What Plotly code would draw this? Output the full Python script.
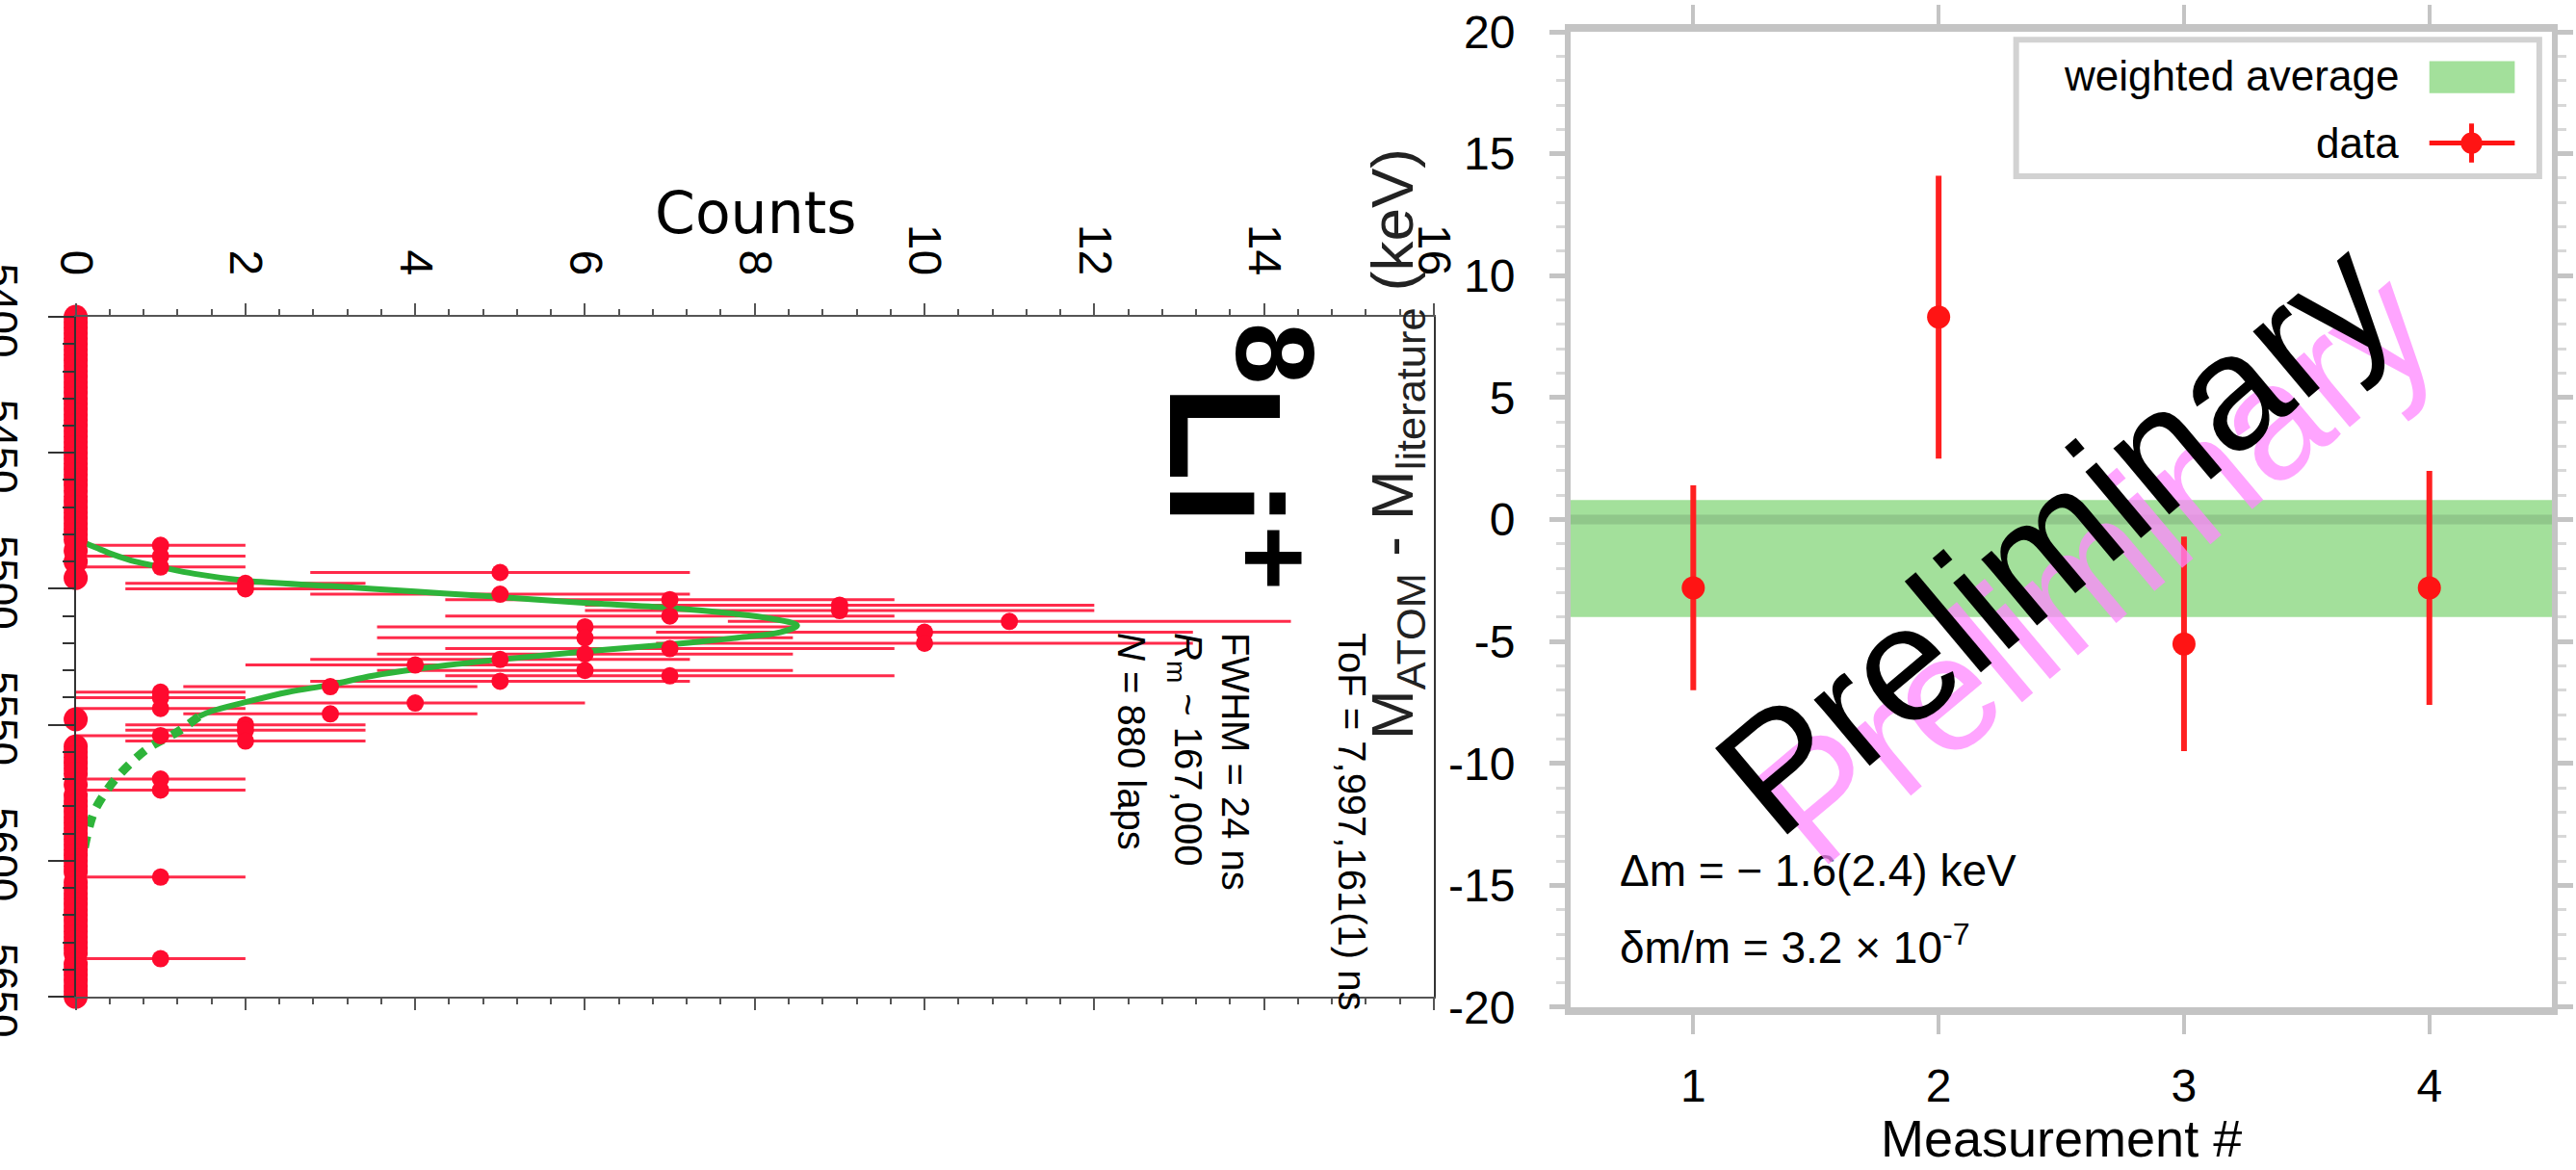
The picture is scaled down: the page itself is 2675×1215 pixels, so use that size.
import plotly.graph_objects as go
import math

# ---------------- Left panel: ToF spectrum (rotated) ----------------
tof_start = 5400      # ns offset of first bin
tof_bin = 2           # ns bin width
counts = [
    0, 0, 0, 0, 0, 0, 0, 0, 0, 0, 0, 0, 0, 0, 0, 0, 0, 0, 0, 0, 0,   # 5400-5440
    0, 0, 0, 0, 0, 0, 0, 0, 0, 0, 0, 0, 0, 0, 0, 0, 0, 0, 0, 0, 0,   # 5442-5482
    1, 0, 1, 0, 1, 5, 0, 2, 2, 5, 7, 9, 9, 7, 11, 6, 10, 6, 10, 7,   # 5484-5522
    6, 5, 4, 6, 7, 5, 3, 1, 1, 4, 1, 3, 0, 2, 2, 1, 2,               # 5524-5556
    0, 0, 0, 0, 0, 0, 1, 0, 1,                                       # 5558-5574
    0, 0, 0, 0, 0, 0, 0, 0, 0, 0, 0, 0, 0, 0, 0, 1,                  # 5576-5606
    0, 0, 0, 0, 0, 0, 0, 0, 0, 0, 0, 0, 0, 0, 1,                     # 5608-5636
    0, 0, 0, 0, 0, 0, 0,                                             # 5638-5650
]
tof = [tof_start + tof_bin * i for i in range(len(counts))]
count_err = [math.sqrt(c) for c in counts]

# fitted line-shape (solid part and dashed tail)
fit_tof_solid = [5483, 5485, 5487.5, 5490, 5492, 5494.5, 5497, 5499, 5501, 5503,
                 5505, 5507, 5509, 5511, 5513.5, 5516, 5518, 5520.5, 5523, 5526,
                 5529.6, 5532, 5535.3, 5538, 5541.7, 5545, 5547]
fit_cnt_solid = [0.1, 0.25, 0.45, 0.7, 1.0, 1.4, 2.0, 3.0, 4.0, 5.0,
                 5.9, 7.0, 7.7, 8.2, 8.5, 8.3, 7.8, 7.0, 6.0, 5.0,
                 4.0, 3.5, 3.0, 2.5, 2.0, 1.6, 1.45]
fit_tof_tail = [5547, 5552.6, 5558.7, 5567.5, 5574, 5581.8, 5590, 5599]
fit_cnt_tail = [1.45, 1.2, 0.85, 0.54, 0.37, 0.22, 0.14, 0.08]

# ---------------- Right panel: mass differences ----------------
measurement = [1, 2, 3, 4]
delta_m = [-2.8, 8.3, -5.1, -2.8]
delta_m_err = [4.2, 5.8, 4.4, 4.8]
wavg = -1.6
wavg_err = 2.4
y2_ticks = [-20, -15, -10, -5, 0, 5, 10, 15, 20]
y2_ticktext = ["-20", "-15", "-10", "-5", "0", "5", "10", "15", "20"]

RED_L = "#ff0a2e"
RED_R = "#ff1414"
GREEN_FIT = "#2eb43a"
BAND = "#a3e09b"
GRAYAX = "#c4c4c4"
SANS = "Liberation Sans, Arial, sans-serif"
WIDE = "DejaVu Sans, Verdana, sans-serif"

fig = go.Figure()

nz_c = [c for c in counts if c > 0]
nz_t = [t for t, c in zip(tof, counts) if c > 0]
nz_e = [e for e, c in zip(count_err, counts) if c > 0]
z_c = [c for c in counts if c == 0]
z_t = [t for t, c in zip(tof, counts) if c == 0]

# error bars (left)
fig.add_trace(go.Scatter(
    x=nz_c, y=nz_t, mode="markers",
    marker=dict(size=1, color="rgba(0,0,0,0)"),
    error_x=dict(type="data", array=nz_e, thickness=3, width=0, color="#ff2a4a"),
    xaxis="x", yaxis="y", cliponaxis=False, hoverinfo="skip"))
# fit curve
fig.add_trace(go.Scatter(
    x=fit_cnt_solid, y=fit_tof_solid, mode="lines",
    line=dict(color=GREEN_FIT, width=6, shape="spline"),
    xaxis="x", yaxis="y"))
fig.add_trace(go.Scatter(
    x=fit_cnt_tail, y=fit_tof_tail, mode="lines",
    line=dict(color=GREEN_FIT, width=9, shape="spline", dash="12px,10px"),
    xaxis="x", yaxis="y"))
# data markers (left): empty bins and filled bins
fig.add_trace(go.Scatter(
    x=z_c, y=z_t, mode="markers",
    marker=dict(size=25, color=RED_L),
    xaxis="x", yaxis="y", cliponaxis=False))
fig.add_trace(go.Scatter(
    x=nz_c, y=nz_t, mode="markers",
    marker=dict(size=18, color=RED_L),
    xaxis="x", yaxis="y", cliponaxis=False))

# right data
fig.add_trace(go.Scatter(
    x=measurement, y=delta_m, mode="markers",
    marker=dict(size=24, color=RED_R),
    error_y=dict(type="data", array=delta_m_err, thickness=6, width=0, color="#ff2020"),
    xaxis="x2", yaxis="y2"))

shapes = [
    dict(type="rect", xref="x2 domain", yref="y2", x0=0, x1=1,
         y0=wavg - wavg_err, y1=wavg + wavg_err,
         fillcolor=BAND, line=dict(width=0), layer="below"),
    dict(type="line", xref="x2 domain", yref="y2", x0=0, x1=1, y0=0, y1=0,
         line=dict(color="rgba(60,90,60,0.18)", width=10), layer="below"),
    dict(type="rect", xref="x2 domain", yref="y2 domain", x0=0.454, x1=0.987,
         y0=0.852, y1=0.992, fillcolor="white", line=dict(color="#d2d2d2", width=6)),
    dict(type="rect", xref="x2 domain", yref="y2 domain", x0=0.875, x1=0.962,
         y0=0.937, y1=0.970, fillcolor=BAND, line=dict(width=0)),
    dict(type="line", xref="x2 domain", yref="y2 domain", x0=0.875, x1=0.962,
         y0=0.886, y1=0.886, line=dict(color=RED_R, width=5)),
    dict(type="line", xref="x2 domain", yref="y2 domain", x0=0.918, x1=0.918,
         y0=0.866, y1=0.906, line=dict(color=RED_R, width=5)),
    dict(type="circle", xref="x2 domain", yref="y2 domain", x0=0.907, x1=0.929,
         y0=0.875, y1=0.897, fillcolor=RED_R, line=dict(width=0)),
]

TXT_Y = 1 - 655 / 1215
ann = [
    dict(text="Counts", xref="paper", yref="paper", x=784 / 2675, y=1 - 221 / 1215,
         xanchor="center", yanchor="middle",
         showarrow=False, font=dict(family=WIDE, size=60, color="black")),
    dict(text="<b><sup>8</sup>Li<sup>+</sup></b>", xref="paper", yref="paper", x=0.480, y=0.726,
         xanchor="center", yanchor="top", textangle=90, showarrow=False,
         font=dict(family=SANS, size=165, color="black")),
    dict(text="ToF = 7,997,161(1) ns", xref="paper", yref="paper", x=1404 / 2675, y=TXT_Y,
         xanchor="center", yanchor="top", textangle=90, showarrow=False,
         font=dict(family=SANS, size=40, color="black")),
    dict(text="FWHM = 24 ns", xref="paper", yref="paper", x=1283 / 2675, y=TXT_Y,
         xanchor="center", yanchor="top", textangle=90, showarrow=False,
         font=dict(family=SANS, size=40, color="black")),
    dict(text="<i>R</i><sub>m</sub> ~ 167,000", xref="paper", yref="paper", x=1231 / 2675, y=TXT_Y,
         xanchor="center", yanchor="top", textangle=90, showarrow=False,
         font=dict(family=SANS, size=40, color="black")),
    dict(text="<i>N</i> = 880 laps", xref="paper", yref="paper", x=1175 / 2675, y=TXT_Y,
         xanchor="center", yanchor="top", textangle=90, showarrow=False,
         font=dict(family=SANS, size=40, color="black")),
    dict(text="M<sub>ATOM</sub> - M<sub>literature</sub> (keV)", xref="paper", yref="paper",
         x=1450 / 2675, y=1 - 461 / 1215, xanchor="center", yanchor="middle",
         textangle=-90, showarrow=False,
         font=dict(family=SANS, size=62, color="#222222")),
    dict(text="Measurement #", xref="paper", yref="paper", x=0.800, y=1 - 1182 / 1215,
         xanchor="center", yanchor="middle",
         showarrow=False, font=dict(family=SANS, size=54, color="black")),
    dict(text="weighted average", xref="x2 domain", yref="y2 domain", x=0.846, y=0.955,
         xanchor="right", yanchor="middle",
         showarrow=False, font=dict(family=SANS, size=44, color="black")),
    dict(text="data", xref="x2 domain", yref="y2 domain", x=0.846, y=0.886,
         xanchor="right", yanchor="middle",
         showarrow=False, font=dict(family=SANS, size=44, color="black")),
    dict(text="Δm = − 1.6(2.4) keV", xref="x2 domain", yref="y2 domain", x=0.048, y=0.140,
         xanchor="left", yanchor="middle",
         showarrow=False, font=dict(family=SANS, size=46, color="black")),
    dict(text="δm/m = 3.2 × 10<sup>-7</sup>", xref="x2 domain", yref="y2 domain", x=0.048, y=0.064,
         xanchor="left", yanchor="middle",
         showarrow=False, font=dict(family=SANS, size=46, color="black")),
    dict(text="Preliminary", xref="x2 domain", yref="y2 domain", x=0.535, y=0.452,
         xanchor="center", yanchor="middle",
         textangle=-40, showarrow=False, opacity=0.75,
         font=dict(family=SANS, size=170, color="#ff88ff")),
    dict(text="Preliminary", xref="x2 domain", yref="y2 domain", x=0.493, y=0.483,
         xanchor="center", yanchor="middle",
         textangle=-40, showarrow=False,
         font=dict(family=SANS, size=170, color="black")),
]

fig.update_layout(
    width=2675, height=1215,
    margin=dict(l=0, r=0, t=0, b=0, autoexpand=False),
    paper_bgcolor="white", plot_bgcolor="white",
    showlegend=False,
    shapes=shapes, annotations=ann,
    xaxis=dict(domain=[0.02938, 0.5566], anchor="y", side="top", range=[0, 16],
               tick0=0, dtick=2, ticks="outside", ticklen=12, tickwidth=2, tickcolor="#555",
               minor=dict(dtick=0.4, tick0=0, ticks="outside", ticklen=6, tickwidth=2, tickcolor="#555"),
               tickangle=90, tickfont=dict(family=SANS, size=48, color="black"),
               ticklabelstandoff=12, automargin=False,
               showline=True, linecolor="#555", linewidth=2, mirror="allticks",
               showgrid=False, zeroline=False),
    yaxis=dict(domain=[0.1481, 0.7292], anchor="x", range=[5650, 5400],
               tick0=5400, dtick=50, ticks="outside", ticklen=27, tickwidth=2, tickcolor="#333",
               minor=dict(dtick=10, tick0=5400, ticks="outside", ticklen=12, tickwidth=2, tickcolor="#333"),
               tickangle=90, tickfont=dict(family=SANS, size=44, color="black"),
               ticklabelstandoff=10, automargin=False,
               showline=True, linecolor="#333", linewidth=2, mirror=True,
               showgrid=False, zeroline=False),
    yaxis3=dict(overlaying="y", anchor="x", side="right", range=[5650, 5400],
                tick0=5400, dtick=50, ticks="inside", ticklen=20, tickwidth=2, tickcolor="#333",
                minor=dict(dtick=10, tick0=5400, ticks="inside", ticklen=10, tickwidth=2, tickcolor="#333"),
                showticklabels=False, showline=False, showgrid=False, zeroline=False,
                automargin=False),
    xaxis2=dict(domain=[0.6097, 0.9907], anchor="y2", range=[0.5, 4.5],
                tickvals=measurement, ticks="outside", ticklen=20, tickwidth=4, tickcolor=GRAYAX,
                tickfont=dict(family=SANS, size=48, color="black"), ticklabelstandoff=12,
                showline=True, linecolor=GRAYAX, linewidth=8, mirror="allticks",
                showgrid=False, zeroline=False, automargin=False),
    yaxis2=dict(domain=[0.1391, 0.9728], anchor="x2", range=[-20, 20],
                tickvals=y2_ticks, ticktext=y2_ticktext,
                ticks="outside", ticklen=16, tickwidth=5, tickcolor=GRAYAX,
                minor=dict(dtick=1, tick0=0, ticks="outside", ticklen=9, tickwidth=3, tickcolor="#d8d8d8"),
                tickfont=dict(family=SANS, size=48, color="black"), ticklabelstandoff=26,
                showline=True, linecolor=GRAYAX, linewidth=6, mirror="allticks",
                showgrid=False, zeroline=False, automargin=False),
)

fig.write_html("out.html")
